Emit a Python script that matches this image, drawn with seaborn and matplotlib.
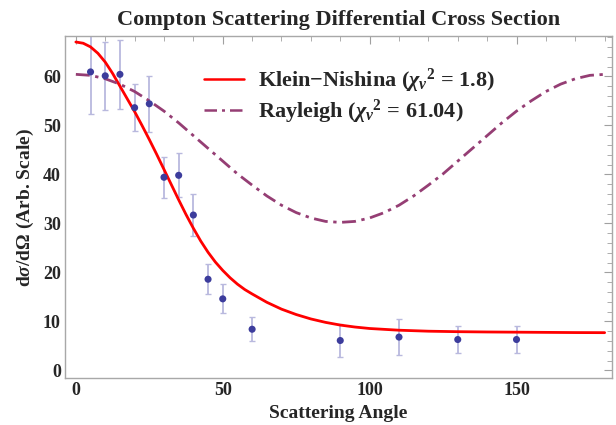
import numpy as np
import pandas as pd
import seaborn as sns
import matplotlib.pyplot as plt
from matplotlib.ticker import MultipleLocator

# measured points (angle in degrees)
angles = [5, 10, 15, 20, 25, 30, 35, 40, 45, 50, 60, 90, 110, 130, 150]
cross_section = [60.9, 60.1, 60.4, 53.6, 54.4, 39.4, 39.8, 31.7, 18.6, 14.6, 8.4, 6.1, 6.8, 6.3, 6.3]
errors = [8.6, 7.0, 7.0, 4.85, 5.7, 4.15, 4.5, 4.2, 3.1, 2.95, 2.45, 3.35, 3.65, 2.85, 2.85]

# Klein-Nishina fit
kn_angles = [0, 2.5, 5, 7.5, 10, 12.5, 15, 17.5, 20, 22.5, 25, 27.5, 30, 32.5,
             35, 37.5, 40, 42.5, 45, 47.5, 50, 52.5, 55, 57.5, 60, 65, 70, 75,
             80, 85, 90, 95, 100, 110, 120, 130, 140, 150, 160, 170, 180]
klein_nishina = [67.0, 66.75, 66.0, 64.7, 62.9, 60.6, 58.0, 55.4, 52.8, 50.0,
                 47.1, 44.1, 41.0, 37.9, 34.8, 31.8, 29.0, 26.4, 24.1, 22.1,
                 20.4, 18.9, 17.6, 16.5, 15.6, 13.9, 12.5, 11.4, 10.5, 9.8,
                 9.25, 8.85, 8.55, 8.2, 8.0, 7.9, 7.84, 7.8, 7.76, 7.72, 7.7]

# Rayleigh fit, read every 5 degrees
ray_angles = list(range(0, 181, 5))
rayleigh = [60.4, 60.2, 59.5, 58.4, 56.9, 55.0, 52.9, 50.5, 47.9, 45.3,
            42.7, 40.1, 37.8, 35.6, 33.7, 32.2, 31.1, 30.4, 30.2, 30.4,
            31.1, 32.2, 33.7, 35.6, 37.8, 40.1, 42.7, 45.3, 47.9, 50.5,
            52.9, 55.0, 56.9, 58.4, 59.5, 60.2, 60.4]

kn_label = r"Klein$-$Nishina ($\chi_{\nu}{}^{2}$ = 1.8)"
ray_label = r"Rayleigh ($\chi_{\nu}{}^{2}$ = 61.04)"

sns.set_style("white")
plt.rcParams["font.family"] = ["Liberation Serif", "DejaVu Serif"]
plt.rcParams["font.weight"] = "bold"
plt.rcParams["mathtext.fontset"] = "custom"
plt.rcParams["mathtext.rm"] = "Liberation Serif:bold"
plt.rcParams["mathtext.it"] = "Liberation Serif:italic:bold"
plt.rcParams["mathtext.bf"] = "Liberation Serif:bold"

kn_df = pd.DataFrame({"angle": kn_angles, "y": klein_nishina})
ray_df = pd.DataFrame({"angle": ray_angles, "y": rayleigh})
points = pd.DataFrame({"angle": angles, "y": cross_section, "err": errors})

fig, ax = plt.subplots(figsize=(6.16, 4.25), dpi=100)
fig.subplots_adjust(left=0.1055, right=0.9935, top=0.915, bottom=0.11)

ax.errorbar(points["angle"], points["y"], yerr=points["err"], fmt="none",
            ecolor="#b9b9de", elinewidth=1.3, capsize=2.2, capthick=1.0, zorder=2)
sns.lineplot(data=kn_df, x="angle", y="y", color="#ff0000", linewidth=2.0,
             ax=ax, label=kn_label, zorder=3)
sns.lineplot(data=ray_df, x="angle", y="y", color="#953e74", linewidth=2.0,
             ax=ax, label=ray_label, zorder=3)
ax.lines[-1].set_dashes([5, 2, 1.2, 2])
sns.scatterplot(data=points, x="angle", y="y", color="#3c3c9c", s=26,
                edgecolor="none", ax=ax, zorder=4)

ax.set_xlim(-3.7, 182.5)
ax.set_ylim(-1.6, 68.2)
ax.xaxis.set_major_locator(MultipleLocator(50))
ax.xaxis.set_minor_locator(MultipleLocator(10))
ax.yaxis.set_major_locator(MultipleLocator(10))
ax.yaxis.set_minor_locator(MultipleLocator(2))
ax.tick_params(which="both", direction="in", top=True, right=True, color="#a0a0a0",
               labelsize=13, pad=3)
ax.tick_params(which="major", length=6, width=0.8)
ax.tick_params(which="minor", length=3.5, width=0.6)
for s in ax.spines.values():
    s.set_color("#a8a8a8")
    s.set_linewidth(1.0)

ax.set_title("Compton Scattering Differential Cross Section", fontsize=16,
             fontweight="bold", pad=8)
ax.set_xlabel("Scattering Angle", fontsize=14, fontweight="bold", labelpad=4)
ax.set_ylabel(r"d$\sigma$/d$\Omega$ (Arb. Scale)", fontsize=14, fontweight="bold", labelpad=5)

leg = ax.legend(loc="upper left", bbox_to_anchor=(0.218, 0.97), frameon=False,
                fontsize=16, handlelength=1.8, handletextpad=0.6, labelspacing=0.15)
for h in leg.get_lines():
    h.set_linewidth(1.8)

fig.savefig("out.png", dpi=100)
